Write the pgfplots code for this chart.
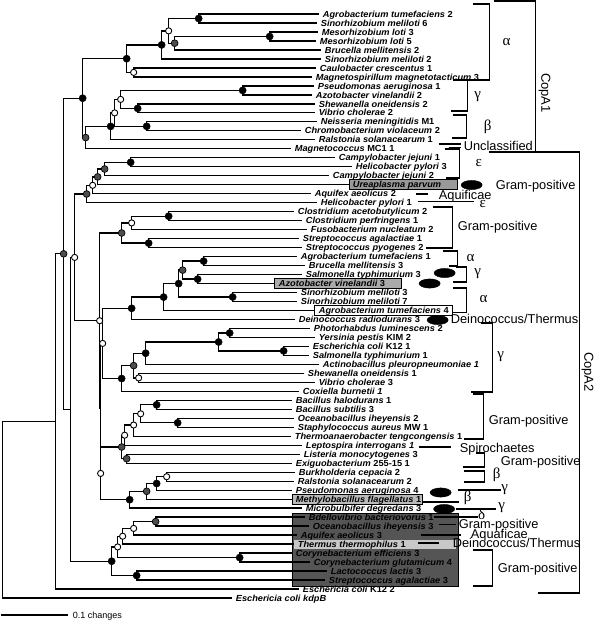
\documentclass[border=0pt]{standalone}
\usepackage{pgfplots}
\pgfplotsset{compat=1.18}
\usepackage{fontspec}
\setmainfont{Liberation Sans}
\newfontfamily\lab[FakeStretch=1.05]{Liberation Sans}
\newfontfamily\grk{Liberation Serif}
\definecolor{dk}{HTML}{555555}
\definecolor{gm}{HTML}{4D4D4D}
\definecolor{bxa}{HTML}{999999}
\definecolor{bxb}{HTML}{AAAAAA}
\definecolor{bxc}{HTML}{BBBBBB}
\definecolor{bxd}{HTML}{C8C8C8}
\tikzset{
  lbl/.style={anchor=west, inner sep=0pt, text height=6.2pt, text depth=0pt, font=\lab\fontsize{8.8}{9}\selectfont\bfseries},
  ann/.style={anchor=west, inner sep=0pt, text height=9pt, text depth=0pt, font=\fontsize{12.8}{14}\selectfont},
  gk/.style={anchor=center, inner sep=0pt, text height=7pt, text depth=0pt, font=\grk\fontsize{15}{16}\selectfont},
  br/.style={line width=1.3pt, black}}
\begin{document}
\begin{tikzpicture}
\begin{axis}[x=1pt, y=1pt, y dir=reverse, xmin=0, xmax=600, ymin=0, ymax=620,
  hide axis, clip=false, scale only axis, anchor=origin]
\path (axis cs:0,0) rectangle (axis cs:600,620);
% highlight boxes
\draw[fill=dk, line width=0.8pt] (axis cs:292,513) rectangle (axis cs:458,586);
\draw[fill=bxd, draw=none] (axis cs:293,539.5) rectangle (axis cs:455,548.5);
\draw[fill=bxa, line width=0.8pt] (axis cs:349,179.5) rectangle (axis cs:457,189.8);
\draw[fill=bxb, line width=0.8pt] (axis cs:274,278.5) rectangle (axis cs:401,288.6);
\draw[fill=white, line width=0.8pt] (axis cs:314,305.6) rectangle (axis cs:452,315.2);
\draw[fill=bxc, line width=0.8pt] (axis cs:292,494.4) rectangle (axis cs:422,504);
% tree branches
\addplot[black, line width=1.3pt] table {
318 14.0
198 14.0
198 23.0
316 23.0

317 32.0
269 32.0
269 41.0
315 41.0

269 36.5
174 36.5
174 49.9
320 49.9

198 18.5
168 18.5
168 43.2
174 43.2

168 30.9
161 30.9
161 58.9
320 58.9

315 67.9
133 67.9
133 76.9
311 76.9

161 44.9
126 44.9
126 72.4
133 72.4

313 85.9
242 85.9
242 94.9
311 94.9

314 103.9
137 103.9
137 112.8
314 112.8

242 90.4
120 90.4
120 108.4
137 108.4

316 121.8
146 121.8
146 130.8
300 130.8

120 99.4
114 99.4
114 126.3
146 126.3

114 112.9
110 112.9
110 139.8
314 139.8

110 126.4
85 126.4
85 148.8
290 148.8

126 58.7
82 58.7
82 137.6
85 137.6

334 157.8
130 157.8
130 166.7
351 166.7

130 162.3
104 162.3
104 175.7
328 175.7

104 169.0
97 169.0
97 184.7
349 184.7

97 176.9
92 176.9
92 193.7
310 193.7

92 185.3
86 185.3
86 202.7
316 202.7

293 211.7
168 211.7
168 220.6
301 220.6

168 216.2
131 216.2
131 229.6
306 229.6

298 238.6
148 238.6
148 247.6
301 247.6

131 222.9
121 222.9
121 243.1
148 243.1

296 256.6
203 256.6
203 265.6
304 265.6

301 274.6
197 274.6
197 283.5
274 283.5

203 261.1
182 261.1
182 279.1
197 279.1

296 292.5
232 292.5
232 301.5
296 301.5

182 270.1
178 270.1
178 297.0
232 297.0

178 283.6
163 283.6
163 310.5
314 310.5

163 297.1
131 297.1
131 319.5
294 319.5

309 328.5
229 328.5
229 337.4
314 337.4

308 346.4
283 346.4
283 355.4
308 355.4

229 333.0
218 333.0
218 350.9
283 350.9

218 342.0
145 342.0
145 364.4
318 364.4

303 373.4
138 373.4
138 382.4
314 382.4

145 353.2
133 353.2
133 377.9
138 377.9

133 365.6
121 365.6
121 391.3
298 391.3

131 308.3
102 308.3
102 378.5
121 378.5

291 400.3
156 400.3
156 409.3
291 409.3

293 418.3
177 418.3
177 427.3
293 427.3

156 404.8
140 404.8
140 422.8
177 422.8

140 413.8
133 413.8
133 436.3
290 436.3

133 425.0
124 425.0
124 445.3
301 445.3

299 454.2
126 454.2
126 463.2
291 463.2

124 435.2
121 435.2
121 458.7
126 458.7

294 472.2
166 472.2
166 481.2
293 481.2

166 476.7
156 476.7
156 490.2
291 490.2

156 483.5
146 483.5
146 499.2
292 499.2

146 491.3
129 491.3
129 508.1
301 508.1

121 447.0
100 447.0
100 499.7
129 499.7

102 343.4
99.5 343.4
99.5 473.4
100 473.4

121 233.0
99 233.0
99 408.4
99.5 408.4

86 194.0
74 194.0
74 320.7
99 320.7

304 517.1
155 517.1
155 526.1
308 526.1

155 521.6
133 521.6
133 535.1
296 535.1

133 528.4
122 528.4
122 544.1
293 544.1

291 553.1
239 553.1
239 562.1
309 562.1

122 536.2
117 536.2
117 557.6
239 557.6

326 571.0
136 571.0
136 580.0
324 580.0

117 546.9
111 546.9
111 575.5
136 575.5

74 257.4
70 257.4
70 561.2
111 561.2

82 98.2
63 98.2
63 409.3
70 409.3

63 253.8
55 253.8
55 589.0
298 589.0

55 421.4
2 421.4
2 598.0
231 598.0
};
% node markers
\addplot[only marks, mark=*, mark size=3.6pt, mark options={fill=black, draw=black}] coordinates {
(198,18.5) (269,36.5) (161,44.9) (126,58.7) (242,90.4) (137,108.4) (146,126.3) (110,126.4) (82,98.2)
(130,162.3) (168,216.2) (148,243.1) (203,261.1) (197,279.1) (232,297.0) (178,283.6) (163,297.1) (131,308.3)
(229,333.0) (283,350.9) (218,342.0) (145,353.2) (121,378.5) (156,404.8) (177,422.8) (156,483.5) (129,499.7)
(239,557.6) (136,575.5) (111,561.2)};
\addplot[only marks, mark=*, mark size=3.4pt, mark options={fill=gm, draw=black, line width=0.7pt}] coordinates {
(174,43.2) (85,137.6) (104,169.0) (97,176.9) (86,194.0) (121,233.0) (182,270.1) (133,365.6) (126,458.7)
(121,447.0) (146,491.3) (155,521.6) (63,253.8)};
\addplot[only marks, mark=*, mark size=3.1pt, mark options={fill=white, draw=black, line width=0.9pt}] coordinates {
(168,30.9) (133,72.4) (120,99.4) (114,112.9) (92,185.3) (131,222.9) (138,377.9) (102,343.4) (140,413.8)
(133,425.0) (124,435.2) (166,476.7) (100,473.4) (99,320.7) (74,257.4) (133,528.4) (122,536.2) (117,546.9)};
% ellipses
\addplot[only marks, mark=*, mark size=4.6pt, mark options={xscale=2.3, fill=black, draw=black}] coordinates {
(471,185) (444,273) (429,283.5) (437,320) (440,492.5) (443.5,509)};
% leaf labels
\node[lbl] at (axis cs:322,14.0) {{\itshape Agrobacterium tumefaciens} 2};
\node[lbl] at (axis cs:320,23.0) {{\itshape Sinorhizobium meliloti} 6};
\node[lbl] at (axis cs:321,32.0) {{\itshape Mesorhizobium loti} 3};
\node[lbl] at (axis cs:319,41.0) {{\itshape Mesorhizobium loti} 5};
\node[lbl] at (axis cs:324,49.9) {{\itshape Brucella mellitensis} 2};
\node[lbl] at (axis cs:324,58.9) {{\itshape Sinorhizobium meliloti} 2};
\node[lbl] at (axis cs:319,67.9) {{\itshape Caulobacter crescentus} 1};
\node[lbl] at (axis cs:315,76.9) {{\itshape Magnetospirillum magnetotacticum} 3};
\node[lbl] at (axis cs:317,85.9) {{\itshape Pseudomonas aeruginosa} 1};
\node[lbl] at (axis cs:315,94.9) {{\itshape Azotobacter vinelandii} 2};
\node[lbl] at (axis cs:318,103.9) {{\itshape Shewanella oneidensis} 2};
\node[lbl] at (axis cs:318,112.8) {{\itshape Vibrio cholerae} 2};
\node[lbl] at (axis cs:320,121.8) {{\itshape Neisseria meningitidis} M1};
\node[lbl] at (axis cs:304,130.8) {{\itshape Chromobacterium violaceum} 2};
\node[lbl] at (axis cs:318,139.8) {{\itshape Ralstonia solanacearum} 1};
\node[lbl] at (axis cs:294,148.8) {{\itshape Magnetococcus} MC1 1};
\node[lbl] at (axis cs:338,157.8) {{\itshape Campylobacter jejuni} 1};
\node[lbl] at (axis cs:355,166.7) {{\itshape Helicobacter pylori} 3};
\node[lbl] at (axis cs:332,175.7) {{\itshape Campylobacter jejuni} 2};
\node[lbl] at (axis cs:352,184.7) {{\itshape Ureaplasma parvum}};
\node[lbl] at (axis cs:314,193.7) {{\itshape Aquifex aeolicus} 2};
\node[lbl] at (axis cs:320,202.7) {{\itshape Helicobacter pylori} 1};
\node[lbl] at (axis cs:297,211.7) {{\itshape Clostridium acetobutylicum} 2};
\node[lbl] at (axis cs:305,220.6) {{\itshape Clostridium perfringens} 1};
\node[lbl] at (axis cs:310,229.6) {{\itshape Fusobacterium nucleatum} 2};
\node[lbl] at (axis cs:302,238.6) {{\itshape Streptococcus agalactiae} 1};
\node[lbl] at (axis cs:305,247.6) {{\itshape Streptococcus pyogenes} 2};
\node[lbl] at (axis cs:300,256.6) {{\itshape Agrobacterium tumefaciens} 1};
\node[lbl] at (axis cs:308,265.6) {{\itshape Brucella mellitensis} 3};
\node[lbl] at (axis cs:305,274.6) {{\itshape Salmonella typhimurium} 3};
\node[lbl] at (axis cs:278,283.5) {{\itshape Azotobacter vinelandii} 3};
\node[lbl] at (axis cs:300,292.5) {{\itshape Sinorhizobium meliloti} 3};
\node[lbl] at (axis cs:300,301.5) {{\itshape Sinorhizobium meliloti} 7};
\node[lbl] at (axis cs:318,310.5) {{\itshape Agrobacterium tumefaciens} 4};
\node[lbl] at (axis cs:298,319.5) {{\itshape Deinococcus radiodurans} 3};
\node[lbl] at (axis cs:313,328.5) {{\itshape Photorhabdus luminescens} 2};
\node[lbl] at (axis cs:318,337.4) {{\itshape Yersinia pestis} KIM 2};
\node[lbl] at (axis cs:312,346.4) {{\itshape Escherichia coli} K12 1};
\node[lbl] at (axis cs:312,355.4) {{\itshape Salmonella typhimurium} 1};
\node[lbl] at (axis cs:322,364.4) {{\itshape Actinobacillus pleuropneumoniae 1}};
\node[lbl] at (axis cs:307,373.4) {{\itshape Shewanella oneidensis} 1};
\node[lbl] at (axis cs:318,382.4) {{\itshape Vibrio cholerae} 3};
\node[lbl] at (axis cs:302,391.3) {{\itshape Coxiella burnetii 1}};
\node[lbl] at (axis cs:295,400.3) {{\itshape Bacillus halodurans} 1};
\node[lbl] at (axis cs:295,409.3) {{\itshape Bacillus subtilis} 3};
\node[lbl] at (axis cs:297,418.3) {{\itshape Oceanobacillus iheyensis} 2};
\node[lbl] at (axis cs:297,427.3) {{\itshape Staphylococcus aureus} MW 1};
\node[lbl] at (axis cs:294,436.3) {{\itshape Thermoanaerobacter tengcongensis} 1};
\node[lbl] at (axis cs:305,445.3) {{\itshape Leptospira interrogans 1}};
\node[lbl] at (axis cs:303,454.2) {{\itshape Listeria monocytogenes} 3};
\node[lbl] at (axis cs:295,463.2) {{\itshape Exiguobacterium} 255-15 1};
\node[lbl] at (axis cs:298,472.2) {{\itshape Burkholderia cepacia} 2};
\node[lbl] at (axis cs:297,481.2) {{\itshape Ralstonia solanacearum} 2};
\node[lbl] at (axis cs:295,490.2) {{\itshape Pseudomonas aeruginosa} 4};
\node[lbl] at (axis cs:295,499.2) {{\itshape Methylobacillus flagellatus} 1};
\node[lbl] at (axis cs:305,508.1) {{\itshape Microbulbifer degredans} 3};
\node[lbl] at (axis cs:308,517.1) {{\itshape Bdellovibrio bacteriovorus} 1};
\node[lbl] at (axis cs:312,526.1) {{\itshape Oceanobacillus iheyensis} 3};
\node[lbl] at (axis cs:300,535.1) {{\itshape Aquifex aeolicus} 3};
\node[lbl] at (axis cs:297,544.1) {{\itshape Thermus thermophilus} 1};
\node[lbl] at (axis cs:295,553.1) {{\itshape Corynebacterium efficiens} 3};
\node[lbl] at (axis cs:313,562.1) {{\itshape Corynebacterium glutamicum} 4};
\node[lbl] at (axis cs:330,571.0) {{\itshape Lactococcus lactis} 3};
\node[lbl] at (axis cs:328,580.0) {{\itshape Streptococcus agalactiae} 3};
\node[lbl] at (axis cs:302,589.0) {{\itshape Eschericia coli} K12 2};
\node[lbl] at (axis cs:235,598.0) {{\itshape Eschericia coli kdpB}};
% brackets
\draw[br] (axis cs:493,1) -- (axis cs:535,1) -- (axis cs:535,152);
\draw[br] (axis cs:488,152) -- (axis cs:579,152) -- (axis cs:579,593) -- (axis cs:537,593);
\draw[br] (axis cs:472,4) -- (axis cs:489,4) -- (axis cs:489,80) -- (axis cs:452,80);
\draw[br] (axis cs:467,80) -- (axis cs:467,111) -- (axis cs:450,111);
\draw[br] (axis cs:452,115) -- (axis cs:466,115) -- (axis cs:466,138) -- (axis cs:451,138);
\draw[br] (axis cs:438,144) -- (axis cs:460,144);
\draw[br] (axis cs:448,147.5) -- (axis cs:460,147.5);
\draw[br] (axis cs:444,149) -- (axis cs:459,149) -- (axis cs:459,178) -- (axis cs:445,178);
\draw[br] (axis cs:415,194) -- (axis cs:427,194);
\draw[br] (axis cs:417,201.5) -- (axis cs:473,201.5);
\draw[br] (axis cs:432,207) -- (axis cs:452,207) -- (axis cs:452,248) -- (axis cs:425,248);
\draw[br] (axis cs:442,251) -- (axis cs:457,251) -- (axis cs:457,266) -- (axis cs:448,266);
\draw[br] (axis cs:455,267) -- (axis cs:466,267) -- (axis cs:466,282) -- (axis cs:452,282);
\draw[br] (axis cs:452,288) -- (axis cs:466,288) -- (axis cs:466,312.5) -- (axis cs:452,312.5);
\draw[br] (axis cs:480,323) -- (axis cs:492,323) -- (axis cs:492,392) -- (axis cs:470,392);
\draw[br] (axis cs:472,394) -- (axis cs:483,394) -- (axis cs:483,439) -- (axis cs:463,439);
\draw[br] (axis cs:418,447) -- (axis cs:450,447);
\draw[br] (axis cs:475,453) -- (axis cs:484,453) -- (axis cs:484,467);
\draw[line width=2.6pt] (axis cs:462,467) -- (axis cs:484.6,467);
\draw[br] (axis cs:463,471) -- (axis cs:484,471) -- (axis cs:484,482) -- (axis cs:463,482);
\draw[br] (axis cs:457,490) -- (axis cs:500,490);
\draw[br] (axis cs:422,502) -- (axis cs:458,502);
\draw[br] (axis cs:455,509) -- (axis cs:495,509);
\draw[br] (axis cs:433,517) -- (axis cs:477,517);
\draw[br] (axis cs:438,524.5) -- (axis cs:455,524.5);
\draw[br] (axis cs:420,535) -- (axis cs:460,535);
\draw[br] (axis cs:417,543) -- (axis cs:438,543);
\draw[br] (axis cs:472,550) -- (axis cs:492,550) -- (axis cs:492,586) -- (axis cs:472,586);
\draw[br] (axis cs:0,615) -- (axis cs:67,615);
% annotation text
\node[ann] at (axis cs:463,146) {Unclassified};
\node[ann] at (axis cs:495,185) {Gram-positive};
\node[ann] at (axis cs:438,195) {Aquificae};
\node[ann] at (axis cs:457,226) {Gram-positive};
\node[ann] at (axis cs:450,319) {Deinococcus/Thermus};
\node[ann] at (axis cs:488,420) {Gram-positive};
\node[ann] at (axis cs:459,448) {Spirochaetes};
\node[ann] at (axis cs:500,461) {Gram-positive};
\node[ann] at (axis cs:458,524) {Gram-positive};
\node[ann] at (axis cs:470,534) {Aquaficae};
\node[ann] at (axis cs:452,543) {Deinococcus/Thermus};
\node[ann] at (axis cs:497,568) {Gram-positive};
\node[anchor=center, inner sep=0pt, rotate=-90, font=\fontsize{13}{14}\selectfont] at (axis cs:544,93) {CopA1};
\node[anchor=center, inner sep=0pt, rotate=-90, font=\fontsize{13}{14}\selectfont] at (axis cs:587,372) {CopA2};
\node[anchor=west, inner sep=0pt, text height=6.5pt, text depth=0pt, font=\fontsize{9}{10}\selectfont] at (axis cs:72,615) {0.1 changes};
% greek
\node[gk] at (axis cs:506,42) {α};
\node[gk] at (axis cs:477,95) {γ};
\node[gk] at (axis cs:487,127) {β};
\node[gk] at (axis cs:478,163) {ε};
\node[gk] at (axis cs:482,204) {ε};
\node[gk] at (axis cs:470,258) {α};
\node[gk] at (axis cs:477,272) {γ};
\node[gk] at (axis cs:483,299) {α};
\node[gk] at (axis cs:500,355) {γ};
\node[gk] at (axis cs:496,475) {β};
\node[gk] at (axis cs:504,488) {γ};
\node[gk] at (axis cs:467,498) {β};
\node[gk] at (axis cs:501,506) {γ};
\node[gk] at (axis cs:481,516) {δ};
\end{axis}
\end{tikzpicture}
\end{document}
